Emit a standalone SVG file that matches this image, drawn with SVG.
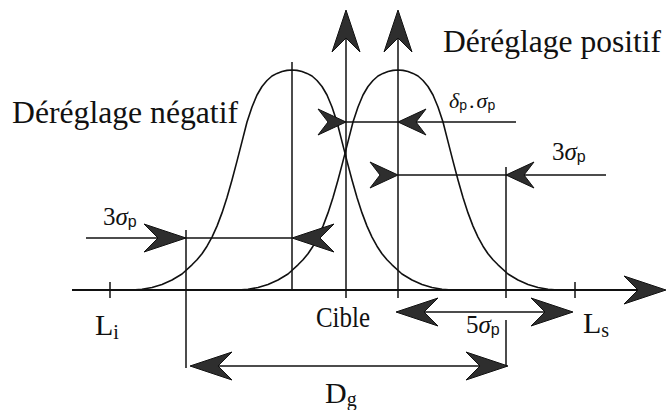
<svg xmlns="http://www.w3.org/2000/svg" xmlns:xlink="http://www.w3.org/1999/xlink" width="672" height="410" viewBox="0 0 672 410">
<style>
.ln{stroke:#111;stroke-width:1.5;fill:none}
.ax{stroke:#111;stroke-width:2.2;fill:none}
.crv{stroke:#111;stroke-width:1.6;fill:none;stroke-linejoin:round}
.ah{fill:#2e2e2e;stroke:#111;stroke-width:1;stroke-linejoin:miter}
.t{font-family:"Liberation Serif","Times New Roman",serif;fill:#111}
.gr{font-style:italic}
.sb{font-family:"Liberation Sans",Arial,sans-serif}
</style>
<defs>
<path id="big" class="ah" d="M0,0 L-42,-14 L-28,0 L-42,14 Z"/>
<path id="sml" class="ah" d="M0,0 L-28,-13 L-18,0 L-28,13 Z"/>
<path id="bell" class="crv" d="M-160,290 L-150,289.3 L-140,287.5 L-130,284.5 L-120,280 L-110,274 L-100,264.8 L-95,259.8 L-90,253.7 L-85,246.2 L-80,237.1 L-75,226.1 L-70,212.9 L-65,197.5 L-60,180 L-55,161.1 L-50,141.6 L-45,122 L-40,107 L-35,95 L-30,86.5 L-25,80.5 L-20,76 L-15,73.4 L-10,71.5 L-5,70.4 L0,70 L5,70.4 L10,71.5 L15,73.4 L20,76 L25,80.5 L30,86.5 L35,95 L40,107 L45,122 L50,141.6 L55,161.1 L60,180 L65,197.5 L70,212.9 L75,226.1 L80,237.1 L85,246.2 L90,253.7 L95,259.8 L100,264.8 L110,274 L120,280 L130,284.5 L140,287.5 L150,289.3 L160,290"/>
</defs>

<g id="curve-negatif"><use xlink:href="#bell" href="#bell" x="292"/></g>
<g id="curve-positif"><use xlink:href="#bell" href="#bell" x="398"/></g>

<g id="connectors">
  <!-- axis -->
  <line class="ax" x1="72" y1="290" x2="640" y2="290"/>
  <use href="#big" xlink:href="#big" transform="translate(666,290)"/>
  <line class="ln" x1="110" y1="282" x2="110" y2="298"/>
  <line class="ln" x1="575" y1="282" x2="575" y2="298"/>
  <!-- verticals -->
  <line class="ln" x1="292" y1="62" x2="292" y2="290"/>
  <line class="ln" x1="346" y1="298" x2="346" y2="30"/>
  <use href="#big" xlink:href="#big" transform="translate(346,10) rotate(-90)"/>
  <line class="ln" x1="398" y1="298" x2="398" y2="30"/>
  <use href="#big" xlink:href="#big" transform="translate(398,10) rotate(-90)"/>
  <line class="ln" x1="186" y1="230" x2="186" y2="368"/>
  <line class="ln" x1="506" y1="167" x2="506" y2="298"/>
  <line class="ln" x1="506" y1="320" x2="506" y2="367"/>
  <!-- delta.sigma -->
  <line class="ln" x1="340" y1="122" x2="516" y2="122"/>
  <use href="#sml" xlink:href="#sml" transform="translate(346,122)"/>
  <use href="#sml" xlink:href="#sml" transform="translate(398,122) rotate(180)"/>
  <!-- 3 sigma right -->
  <line class="ln" x1="398" y1="175" x2="606" y2="175"/>
  <use href="#sml" xlink:href="#sml" transform="translate(398,175)"/>
  <use href="#sml" xlink:href="#sml" transform="translate(506,175) rotate(180)"/>
  <!-- 3 sigma left -->
  <line class="ln" x1="86" y1="238" x2="292" y2="238"/>
  <use href="#big" xlink:href="#big" transform="translate(186,238)"/>
  <use href="#big" xlink:href="#big" transform="translate(292,238) rotate(180)"/>
  <!-- 5 sigma -->
  <line class="ln" x1="400" y1="312" x2="570" y2="312"/>
  <use href="#big" xlink:href="#big" transform="translate(396,312) rotate(180)"/>
  <use href="#big" xlink:href="#big" transform="translate(573,312)"/>
  <!-- Dg -->
  <line class="ln" x1="194" y1="366" x2="504" y2="366"/>
  <use href="#big" xlink:href="#big" transform="translate(190,366) rotate(180)"/>
  <use href="#big" xlink:href="#big" transform="translate(508,366)"/>
</g>

<g id="labels">
  <text id="lbl-positif" class="t" x="443" y="52" font-size="32" textLength="218" lengthAdjust="spacingAndGlyphs">Déréglage positif</text>
  <text id="lbl-negatif" class="t" x="12" y="123" font-size="32" textLength="226" lengthAdjust="spacingAndGlyphs">Déréglage négatif</text>
  <text id="lbl-cible" class="t" x="316" y="327" font-size="30" textLength="54" lengthAdjust="spacingAndGlyphs">Cible</text>
  <text id="lbl-li" class="t" x="95" y="335" font-size="30">L<tspan font-size="20" dy="4">i</tspan></text>
  <text id="lbl-ls" class="t" x="583" y="333" font-size="30">L<tspan font-size="20" dy="4">s</tspan></text>
  <text id="lbl-dg" class="t" x="325" y="403" font-size="30">D<tspan font-size="20" dy="3">g</tspan></text>
  <text id="lbl-3s-left" class="t" x="103" y="225" font-size="25">3<tspan class="gr">σ</tspan><tspan class="sb" font-size="16" dy="2">p</tspan></text>
  <text id="lbl-3s-right" class="t" x="552" y="160" font-size="25">3<tspan class="gr">σ</tspan><tspan class="sb" font-size="16" dy="2">p</tspan></text>
  <text id="lbl-delta" class="t" x="449" y="108" font-size="22"><tspan class="gr">δ</tspan><tspan class="sb" font-size="14" dy="2">p</tspan><tspan dy="-2" dx="2">.</tspan><tspan class="gr" dx="2">σ</tspan><tspan class="sb" font-size="14" dy="2">p</tspan></text>
  <text id="lbl-5s" class="t" x="466" y="333" font-size="25">5<tspan class="gr">σ</tspan><tspan class="sb" font-size="16" dy="2">p</tspan></text>
</g>
</svg>
